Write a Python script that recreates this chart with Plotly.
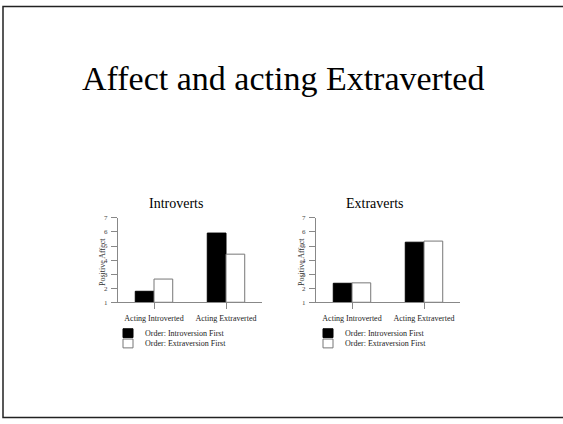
import plotly.graph_objects as go

W, H = 563, 424

categories = ["Acting Introverted", "Acting Extraverted"]
series_names = ["Order: Introversion First", "Order: Extraversion First"]
introverts_intro_first = [1.78, 5.92]
introverts_extra_first = [2.65, 4.42]
extraverts_intro_first = [2.35, 5.27]
extraverts_extra_first = [2.38, 5.35]
y_ticks = [1, 2, 3, 4, 5, 6, 7]
panel_titles = ["Introverts", "Extraverts"]
main_title = "Affect and acting Extraverted"
y_title = "Positive Affect"

FONT = "Liberation Serif, Times New Roman, serif"


def px(x):
    return x / W


def py(y):
    return 1 - y / H


fig = go.Figure()

panels = [
    (introverts_intro_first, introverts_extra_first, "x", "y"),
    (extraverts_intro_first, extraverts_extra_first, "x2", "y2"),
]
for vals_a, vals_b, xa, ya in panels:
    fig.add_trace(go.Bar(x=categories, y=[v - 1 for v in vals_a], base=1,
                         marker=dict(color="black", line=dict(color="black", width=1)),
                         xaxis=xa, yaxis=ya, showlegend=False, name=series_names[0]))
    fig.add_trace(go.Bar(x=categories, y=[v - 1 for v in vals_b], base=1,
                         marker=dict(color="white", line=dict(color="#777777", width=1)),
                         xaxis=xa, yaxis=ya, showlegend=False, name=series_names[1]))

domains = [(118, 262), (316, 460)]
ydom = [py(304), py(218)]

axis_common = dict(showgrid=False, zeroline=False, showline=True, linecolor="#888888",
                   linewidth=1, ticks="outside", ticklen=6, tickcolor="#888888")

layout = dict(
    width=W, height=H, margin=dict(l=0, r=0, t=0, b=0),
    paper_bgcolor="white", plot_bgcolor="white",
    barmode="group", bargap=0.48, bargroupgap=0,
    font=dict(family=FONT, color="black"),
)
for i, (d0, d1) in enumerate(domains):
    sx = "" if i == 0 else str(i + 1)
    layout["xaxis" + sx] = dict(domain=[px(d0), px(d1)], anchor="y" + sx,
                                range=[-0.5, 1.5], ticklabelstandoff=2,
                                tickfont=dict(family=FONT, size=8, color="#222222"),
                                **axis_common)
    layout["yaxis" + sx] = dict(domain=ydom, anchor="x" + sx, range=[1, 7],
                                tickvals=y_ticks, ticklabelstandoff=2,
                                tickfont=dict(family=FONT, size=7, color="#444444"),
                                **axis_common)
fig.update_layout(**layout)

annotations = [
    dict(text=main_title, x=px(283), y=py(76), xref="paper", yref="paper",
         xanchor="center", yanchor="middle",
         showarrow=False, font=dict(family=FONT, size=34, color="black")),
]
title_x = [176, 375]
ytitle_x = [102, 301]
legend_x = [123, 323]
for i in range(2):
    annotations.append(dict(text=panel_titles[i], x=px(title_x[i]), y=py(203),
                            xref="paper", yref="paper", showarrow=False,
                            xanchor="center", yanchor="middle",
                            font=dict(family=FONT, size=14, color="black")))
    annotations.append(dict(text=y_title, x=px(ytitle_x[i]), y=py(263), textangle=-90,
                            xref="paper", yref="paper", showarrow=False,
                            xanchor="center", yanchor="middle",
                            font=dict(family=FONT, size=8, color="#333333")))
    for j, name in enumerate(series_names):
        annotations.append(dict(text=name, x=px(legend_x[i] + 20), y=py(335.5 + 10.5 * j),
                                xref="paper", yref="paper", showarrow=False,
                                xanchor="left", yanchor="middle",
                                font=dict(family=FONT, size=8, color="#222222")))

shapes = [
    dict(type="rect", xref="paper", yref="paper", x0=px(3), x1=px(575),
         y0=py(2.5), y1=py(421.5), line=dict(color="#222222", width=1.5), layer="below"),
]
for i in range(2):
    for j in range(2):
        shapes.append(dict(type="rect", xref="paper", yref="paper",
                           x0=px(legend_x[i]), x1=px(legend_x[i] + 10),
                           y0=py(331 + 10.5 * j), y1=py(340 + 10.5 * j),
                           fillcolor="black" if j == 0 else "white",
                           line=dict(color="black" if j == 0 else "#777777", width=1)))

fig.update_layout(annotations=annotations, shapes=shapes)
fig.write_html("out.html", config={"displayModeBar": False},
               post_script="document.body.style.margin='0';")
